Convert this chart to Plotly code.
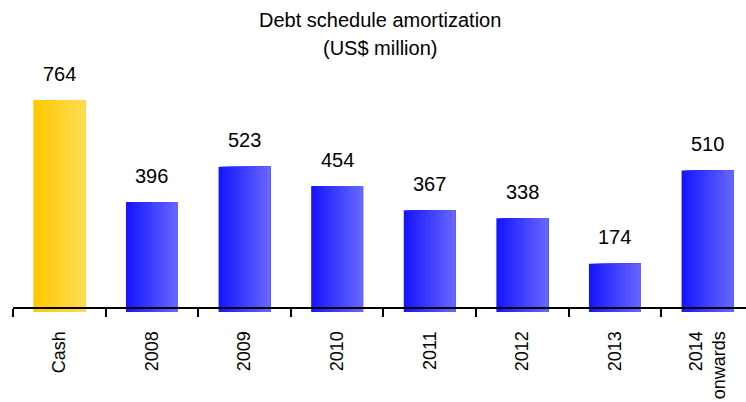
import plotly.graph_objects as go

categories = ["Cash", "2008", "2009", "2010", "2011", "2012", "2013", "2014<br>onwards"]
values = [764, 396, 523, 454, 367, 338, 174, 510]
value_labels = ["764", "396", "523", "454", "367", "338", "174", "510"]
title_line1 = "Debt schedule amortization"
title_line2 = "(US$ million)"

# gradient colours (left -> right) per category
blue_l, blue_r = (20, 20, 255), (104, 104, 255)
gold_l, gold_r = (255, 200, 0), (255, 220, 85)

W, H = 746, 402
plot_bottom = 312
px_per_unit = (312 - 100) / 764.0
ymax = plot_bottom / px_per_unit

SANS = "Liberation Sans, Arial, sans-serif"

def mix(c1, c2, t):
    return "rgb(%d,%d,%d)" % tuple(round(a + (b - a) * t) for a, b in zip(c1, c2))

fig = go.Figure()
bw = 0.56
N = 14
xs = list(range(len(categories)))
for k in range(N):
    t = (k + 0.5) / N
    cols = [mix(gold_l, gold_r, t) if c == "Cash" else mix(blue_l, blue_r, t) for c in categories]
    fig.add_trace(go.Bar(
        x=xs, y=values,
        width=[bw - k * bw / N] * len(categories),
        offset=[-bw / 2 + k * bw / N] * len(categories),
        marker=dict(color=cols, line=dict(width=0)),
        hoverinfo="skip", showlegend=False,
    ))

for i, (v, lab) in enumerate(zip(values, value_labels)):
    fig.add_annotation(x=i, y=v, xref="x", yref="y", text=lab, showarrow=False,
                       yanchor="bottom", yshift=13.5,
                       font=dict(family=SANS, size=20, color="#000"))

for txt, ypx in [(title_line1, 20), (title_line2, 48)]:
    fig.add_annotation(x=0.5, xref="paper", y=1 - ypx / plot_bottom, yref="paper",
                       text=txt, showarrow=False, xanchor="center", yanchor="middle",
                       font=dict(family=SANS, size=20, color="#000"))

fig.update_layout(
    width=W, height=H,
    margin=dict(l=13, r=0, t=0, b=H - plot_bottom, autoexpand=False),
    paper_bgcolor="white", plot_bgcolor="white",
    barmode="overlay",
    xaxis=dict(range=[-0.5, -0.5 + (W - 13) / 92.6], automargin=False,
               tickmode="array", tickvals=xs, ticktext=categories,
               ticks="", showline=True, linewidth=2, linecolor="#000",
               tickangle=-90, anchor="free", position=4 / plot_bottom,
               ticklabelstandoff=15,
               showgrid=False, zeroline=False,
               tickfont=dict(family=SANS, size=18, color="#000"),
               minor=dict(tickmode="array", tickvals=[i - 0.5 for i in xs],
                          ticks="outside", ticklen=8, tickwidth=2, tickcolor="#000",
                          showgrid=False)),
    yaxis=dict(visible=False, range=[0, ymax], showgrid=False, zeroline=False,
               automargin=False),
)

fig.write_html("out.html", config={"displayModeBar": False},
               post_script="document.body.style.margin='0';document.body.style.padding='0';")
